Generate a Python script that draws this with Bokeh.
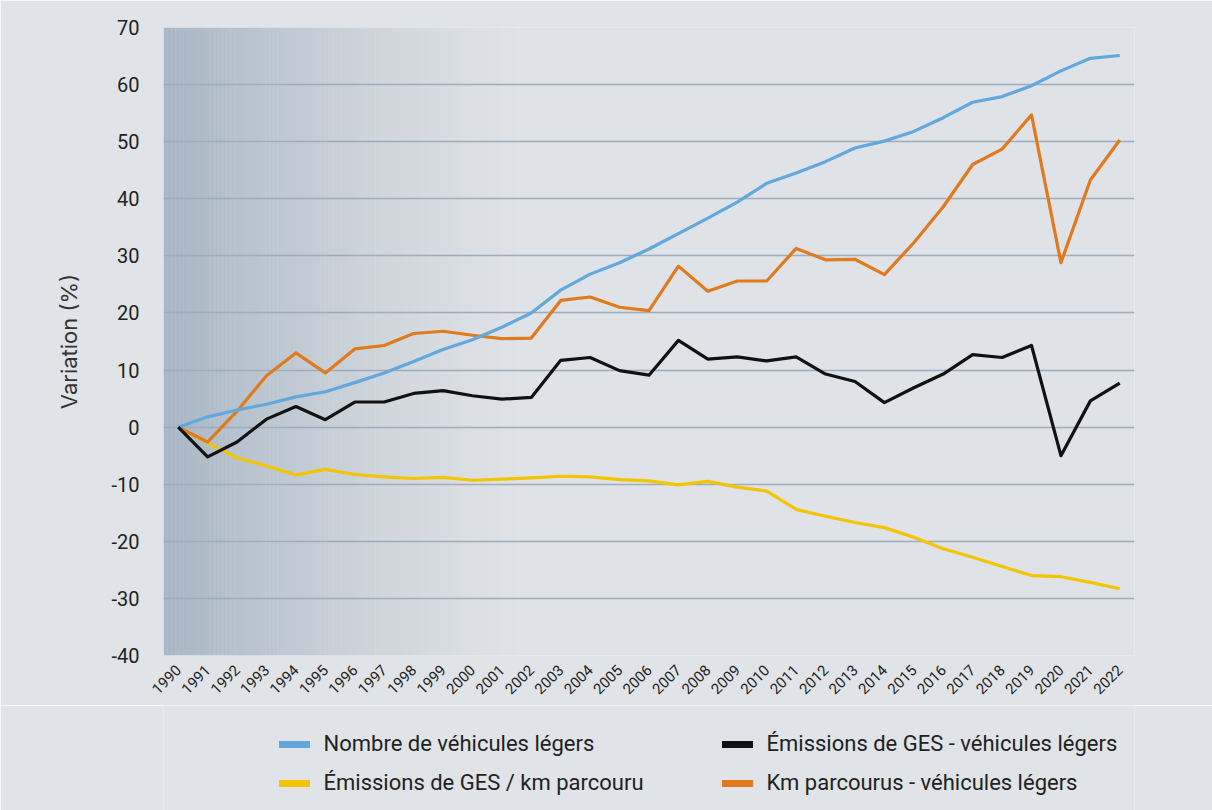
import numpy as np
from bokeh.plotting import figure
from bokeh.layouts import column
from bokeh.models import Range1d, FixedTicker, Legend, LegendItem
from bokeh.embed import file_html
from bokeh.resources import INLINE

years = [str(y) for y in range(1990, 2023)]

nombre_vehicules = [0, 1.8, 3.0, 4.0, 5.3, 6.2, 7.8, 9.5, 11.5, 13.6, 15.3, 17.5, 20.0, 24.0,
                    26.8, 28.8, 31.2, 33.9, 36.6, 39.4, 42.7, 44.5, 46.5, 48.9, 50.1, 51.8,
                    54.2, 56.9, 57.9, 59.8, 62.4, 64.6, 65.1]
emissions_ges = [0, -5.2, -2.6, 1.4, 3.6, 1.3, 4.4, 4.4, 5.9, 6.4, 5.5, 4.9, 5.2, 11.7,
                 12.2, 9.9, 9.1, 15.2, 11.9, 12.3, 11.6, 12.3, 9.3, 8.0, 4.3, 6.9,
                 9.3, 12.7, 12.2, 14.3, -5.0, 4.6, 7.7]
emissions_par_km = [0, -2.8, -5.4, -6.8, -8.4, -7.4, -8.3, -8.7, -9.0, -8.8, -9.3, -9.1, -8.9,
                    -8.6, -8.7, -9.2, -9.4, -10.1, -9.5, -10.5, -11.2, -14.4, -15.6, -16.7,
                    -17.6, -19.3, -21.3, -22.8, -24.4, -26.0, -26.2, -27.2, -28.3]
km_parcourus = [0, -2.6, 2.8, 9.0, 13.0, 9.5, 13.7, 14.3, 16.4, 16.8, 16.1, 15.5, 15.6, 22.2,
                22.8, 21.0, 20.4, 28.2, 23.8, 25.6, 25.6, 31.3, 29.3, 29.4, 26.7, 32.3,
                38.6, 46.0, 48.7, 54.7, 28.8, 43.3, 50.3]

y_ticks = list(range(-40, 71, 10))
y_tick_labels = [str(v) for v in y_ticks]

series_labels = ["Nombre de véhicules légers", "Émissions de GES - véhicules légers",
                 "Émissions de GES / km parcouru", "Km parcourus - véhicules légers"]
series_values = [nombre_vehicules, emissions_ges, emissions_par_km, km_parcourus]
series_colors = ["#62a8dc", "#111111", "#f2c500", "#e07a1c"]

FONT = "Roboto"
PANEL = "#e0e3e7"
xs = list(range(len(years)))

H_MAIN = 705
p = figure(width=1212, height=H_MAIN, output_backend="svg", toolbar_location=None,
           x_range=Range1d(-0.5, len(years) - 0.5), y_range=Range1d(-40, 70),
           min_border_left=163, min_border_top=27, min_border_right=78,
           min_border_bottom=H_MAIN - 27 - 628,
           frame_width=971, frame_height=628)
p.border_fill_color = PANEL
p.background_fill_color = "#dfe2e6"
p.outline_line_color = None

# gradient background on the left of the plot area
n_strips = 90
g_end = 11.5
edges = np.linspace(-0.5, g_end, n_strips + 1)
c0 = np.array([0xa8, 0xb7, 0xc4])
c1 = np.array([0xdf, 0xe2, 0xe6])
cols = []
for i in range(n_strips):
    t = (i + 0.5) / n_strips
    t = 1 - (1 - t) ** 1.3
    c = (c0 + (c1 - c0) * t).astype(int)
    cols.append("#%02x%02x%02x" % tuple(c))
p.quad(left=edges[:-1], right=edges[1:] + 0.01, bottom=-40, top=70,
       fill_color=cols, line_color=None, level="image")

# axes
p.xaxis.ticker = FixedTicker(ticks=xs)
p.xaxis.major_label_overrides = {i: y for i, y in enumerate(years)}
p.xaxis.major_label_orientation = np.pi / 4
p.xaxis.major_label_text_font = FONT
p.xaxis.major_label_text_font_size = "15px"
p.xaxis.major_label_text_color = "#222222"
p.xaxis.major_label_standoff = 6
p.yaxis.ticker = FixedTicker(ticks=y_ticks)
p.yaxis.major_label_overrides = {v: s for v, s in zip(y_ticks, y_tick_labels)}
p.yaxis.major_label_text_font = FONT
p.yaxis.major_label_text_font_size = "20px"
p.yaxis.major_label_text_color = "#222222"
p.yaxis.major_label_standoff = 18
p.yaxis.axis_label = "Variation (%)"
p.yaxis.axis_label_text_font = "Inter"
p.yaxis.axis_label_text_font_size = "22px"
p.yaxis.axis_label_text_font_style = "normal"
p.yaxis.axis_label_text_color = "#333333"
p.yaxis.axis_label_standoff = 26
for ax in (p.xaxis, p.yaxis):
    ax.axis_line_color = None
    ax.major_tick_line_color = None
    ax.minor_tick_line_color = None

p.xgrid.grid_line_color = None
p.ygrid.grid_line_color = "#9dadbc"
p.ygrid.grid_line_width = 1.5

# lines (drawn: yellow, orange, blue, black order for overlap)
draw_order = [2, 3, 0, 1]
for k in draw_order:
    p.line(xs, series_values[k], line_color=series_colors[k], line_width=3.2,
           line_join="round")

# legend strip below the chart (separate figure so it is not clipped)
H_LEG = 810 - H_MAIN
q = figure(width=1212, height=H_LEG, output_backend="svg", toolbar_location=None,
           x_range=Range1d(0, 1), y_range=Range1d(0, 1),
           min_border=0, min_border_left=0, min_border_right=0,
           min_border_top=0, min_border_bottom=0)
q.axis.visible = False
q.grid.visible = False
q.outline_line_color = None
q.border_fill_color = PANEL
q.background_fill_color = PANEL

dummies = []
for k in range(4):
    r = q.line(x=[float("nan")], y=[float("nan")], line_color=series_colors[k],
               line_width=7, line_cap="round")
    dummies.append(r)

columns = [[0, 2], [1, 3]]
col_x = [115.5, 558.5]   # relative to the (aligned) frame's left edge
for ci, idxs in enumerate(columns):
    items = [LegendItem(label=series_labels[k], renderers=[dummies[k]]) for k in idxs]
    lg = Legend(items=items, orientation="vertical",
                location=(col_x[ci], 15), border_line_color=None, background_fill_alpha=0,
                glyph_width=31, glyph_height=20, label_standoff=14, spacing=14,
                label_text_font=FONT, label_text_font_size="22px",
                label_text_color="#222222", padding=0, margin=0)
    q.add_layout(lg, "center")

layout = column(p, q, spacing=0)
open("out.html", "w").write(file_html(layout, INLINE))
